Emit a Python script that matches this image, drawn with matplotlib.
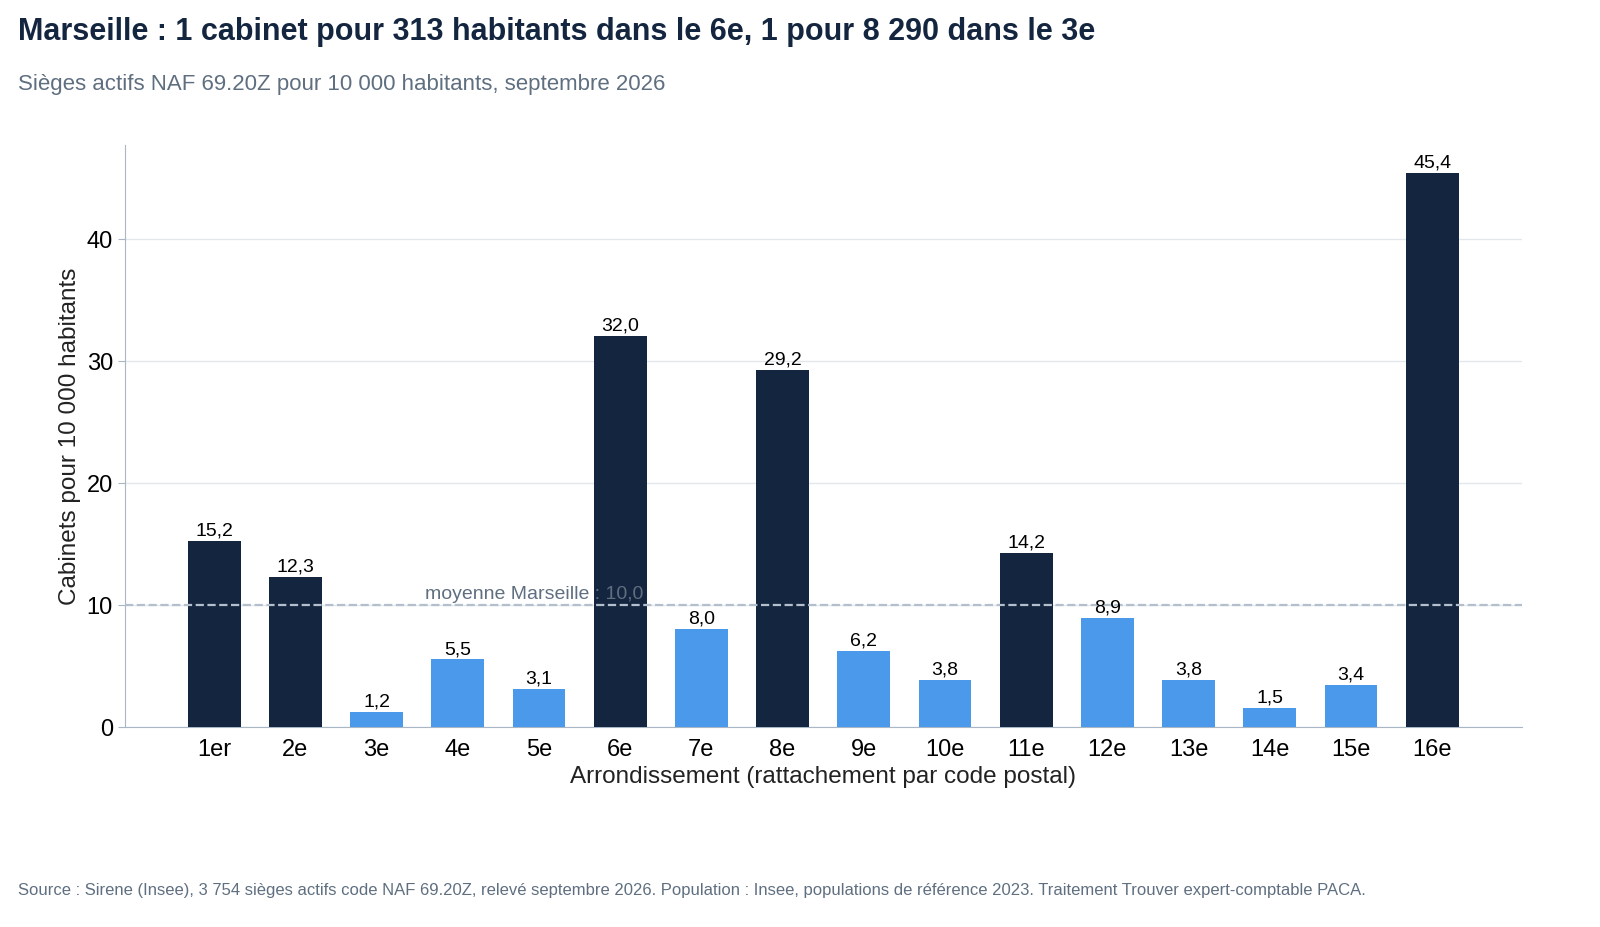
import numpy as np
import matplotlib
matplotlib.use("Agg")
import matplotlib.pyplot as plt

plt.rcParams['font.family'] = ['Liberation Sans', 'DejaVu Sans']

arrondissements = ["1er", "2e", "3e", "4e", "5e", "6e", "7e", "8e",
                   "9e", "10e", "11e", "12e", "13e", "14e", "15e", "16e"]
densite = [15.2, 12.3, 1.2, 5.5, 3.1, 32.0, 8.0, 29.2,
           6.2, 3.8, 14.2, 8.9, 3.8, 1.5, 3.4, 45.4]
moyenne = 10.0

dark = "#14263f"
light = "#4a99ea"
colors = [dark if v > moyenne else light for v in densite]

fig = plt.figure(figsize=(16, 9.28), dpi=100)
ax = fig.add_axes([0.078, 0.216, 0.873, 0.627])

x = np.arange(len(densite))
ax.bar(x, densite, width=0.65, color=colors, zorder=3)
for xi, v in zip(x, densite):
    ax.text(xi, v + 0.2, f"{v:.1f}".replace(".", ","), ha="center", va="bottom",
            fontsize=14, color="black", zorder=6)

ax.axhline(moyenne, color="#b3bfcc", linestyle="--", linewidth=1.6, zorder=4)
ax.text(2.6, moyenne + 0.2, "moyenne Marseille : 10,0", ha="left", va="bottom",
        fontsize=14, color="#5f6f80", zorder=5)

ax.set_xlim(-1.1, 16.1)
ax.set_ylim(0, 47.7)
ax.set_xticks(x)
ax.set_xticklabels(arrondissements, fontsize=17)
ax.set_yticks([0, 10, 20, 30, 40])
ax.tick_params(axis="y", labelsize=17, length=5, color="#a9b6c6")
ax.tick_params(axis="x", length=0, pad=8)
ax.grid(axis="y", color="#e3e7ec", linewidth=1, zorder=0)
for s in ["top", "right"]:
    ax.spines[s].set_visible(False)
for s in ["left", "bottom"]:
    ax.spines[s].set_color("#a9b6c6")

ax.set_xlabel("Arrondissement (rattachement par code postal)", fontsize=17.5, color="#222222", labelpad=4)
ax.set_ylabel("Cabinets pour 10 000 habitants", fontsize=17.5, color="#222222")

fig.text(0.011, 0.965, "Marseille : 1 cabinet pour 313 habitants dans le 6e, 1 pour 8 290 dans le 3e",
         fontsize=22, fontweight="bold", color="#14263f", va="center")
fig.text(0.011, 0.909, "Sièges actifs NAF 69.20Z pour 10 000 habitants, septembre 2026",
         fontsize=16, color="#5f6f80", va="center")
fig.text(0.011, 0.04, "Source : Sirene (Insee), 3 754 sièges actifs code NAF 69.20Z, relevé septembre 2026. "
         "Population : Insee, populations de référence 2023. Traitement Trouver expert-comptable PACA.",
         fontsize=12, color="#5f6f80", va="center")

fig.savefig("out.png", dpi=100)
